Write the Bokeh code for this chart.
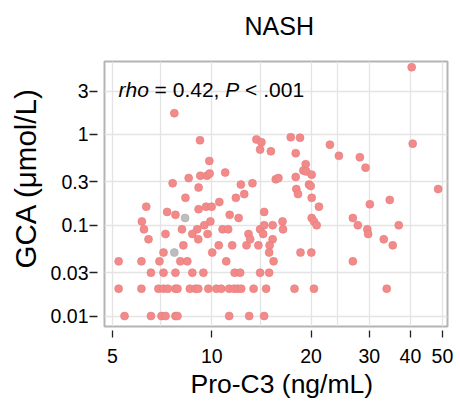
from bokeh.plotting import figure
from bokeh.models import FixedTicker, CustomJSTickFormatter, Label, Range1d, ColumnDataSource, Title
from bokeh.embed import file_html
from bokeh.resources import INLINE

FONT = "Liberation Sans"

# ---- data: Pro-C3 (ng/mL) vs GCA (umol/L), NASH group ----
upper_x = [7.70, 40.35, 9.21, 9.83, 8.51, 9.23, 9.67, 9.85, 7.61, 9.12,
           8.32, 6.33, 7.32, 9.12, 9.61, 9.99, 10.54, 22.80, 17.35, 18.51,
           13.65, 14.14, 14.01, 15.10, 17.96, 10.98, 19.26, 18.94, 19.34, 20.08,
           17.96, 15.63, 15.92, 12.25, 13.28, 19.71, 19.94, 18.04, 18.25, 12.54,
           11.83, 20.08, 14.41, 21.12, 40.63, 24.28, 28.10, 29.24, 48.52, 34.62,
           30.13]
upper_y = [1.71, 5.49, 0.86, 0.51, 0.33, 0.35, 0.35, 0.37, 0.29, 0.26,
           0.20, 0.16, 0.14, 0.15, 0.16, 0.16, 0.18, 0.77, 0.93, 0.92,
           0.88, 0.82, 0.68, 0.65, 0.62, 0.38, 0.47, 0.40, 0.39, 0.36,
           0.34, 0.32, 0.33, 0.28, 0.29, 0.28, 0.27, 0.25, 0.22, 0.22,
           0.20, 0.20, 0.14, 0.16, 0.79, 0.58, 0.56, 0.43, 0.25, 0.19,
           0.17]
mid_x = [7.76, 6.14, 6.23, 6.43, 7.24, 8.12, 9.90, 9.49, 9.03, 8.73,
         9.10, 9.71, 8.20, 7.14, 10.03, 11.33, 12.06, 10.78, 11.21, 10.50,
         11.53, 12.74, 13.84, 12.92, 13.07, 14.01, 14.41, 15.29, 16.38, 16.44,
         14.31, 15.29, 14.97, 14.92, 18.57, 20.03, 20.08, 20.40, 20.79, 26.76,
         27.71, 29.60, 29.77, 36.86, 33.20, 35.35]
mid_y = [0.13, 0.11, 0.09, 0.07, 0.08, 0.09, 0.11, 0.10, 0.09, 0.08,
         0.07, 0.08, 0.06, 0.05, 0.05, 0.13, 0.12, 0.09, 0.09, 0.06,
         0.06, 0.06, 0.06, 0.08, 0.07, 0.09, 0.10, 0.10, 0.11, 0.09,
         0.08, 0.07, 0.06, 0.05, 0.05, 0.05, 0.12, 0.11, 0.10, 0.12,
         0.10, 0.09, 0.08, 0.10, 0.07, 0.06]
row004_x = [5.22, 6.12, 6.94, 8.03, 8.43, 11.06, 15.39, 26.76]
row003_x = [6.54, 7.14, 7.76, 8.73, 9.43, 11.73, 12.19, 14.01, 14.92]
row002_x = [5.22, 6.12, 6.89, 7.14, 7.36, 7.76, 7.87, 8.58, 8.92, 9.10, 9.76,
            10.32, 10.68, 11.29, 11.69, 11.98, 12.28, 13.39, 14.61, 17.81, 20.40, 33.90]
row001_x = [5.44, 6.54, 7.04, 7.24, 7.76, 7.87, 11.29, 12.98, 14.41]

grey_x = [8.30, 7.70]
grey_y = [0.12, 0.05]

x_ticks = [5, 10, 20, 30, 40, 50]
x_grid = [5, 7, 10, 14, 20, 24, 30, 40, 50]
y_ticks = [0.01, 0.03, 0.1, 0.3, 1, 3]

pink_x = upper_x + mid_x + row004_x + row003_x + row002_x + row001_x
pink_y = (upper_y + mid_y + [0.04] * len(row004_x) + [0.03] * len(row003_x)
          + [0.02] * len(row002_x) + [0.01] * len(row001_x))

p = figure(width=460, height=404, x_axis_type="log", y_axis_type="log",
           x_range=Range1d(4.73, 51.8), y_range=Range1d(0.00767, 6.34),
           output_backend="svg", toolbar_location=None,
           min_border_left=103, min_border_right=13, min_border_top=61, min_border_bottom=78,
           background_fill_color="white", border_fill_color="white")
p.title.visible = False

# spacer between frame and the chart title, then the title itself
p.add_layout(Title(text=" ", text_font_size="1px", standoff=19), "above")
p.add_layout(Title(text="NASH", align="left", offset=140, standoff=0,
                   text_font=FONT, text_font_size="25px", text_font_style="normal",
                   text_color="#000000"), "above")

p.outline_line_color = "#b4b4b4"
p.outline_line_width = 2

for ax in (p.xaxis[0], p.yaxis[0]):
    ax.axis_line_color = None
    ax.major_tick_line_color = "#222222"
    ax.major_tick_line_width = 1.3
    ax.minor_tick_line_color = None
    ax.major_label_text_font = FONT
    ax.major_label_text_font_size = "19.5px"
    ax.major_label_text_color = "#000000"
    ax.formatter = CustomJSTickFormatter(code="return String(tick);")

p.xaxis.ticker = FixedTicker(ticks=x_ticks)
p.yaxis.ticker = FixedTicker(ticks=y_ticks)
p.xaxis.major_tick_in = -4
p.xaxis.major_tick_out = 11
p.xaxis.major_label_standoff = 11

p.yaxis.major_tick_in = -7
p.yaxis.major_tick_out = 15
p.yaxis.major_label_standoff = 1

# axis titles as side titles so they can be placed like the original
p.add_layout(Title(text="Pro-C3 (ng/mL)", align="left", offset=86, standoff=6,
                   vertical_align="top", text_font=FONT, text_font_size="26.5px",
                   text_font_style="normal", text_color="#000000"), "below")
p.add_layout(Title(text="GCA (\u03bcmol/L)", align="left", offset=58, standoff=12,
                   text_font=FONT, text_font_size="29.5px", text_font_style="normal",
                   text_color="#000000"), "left")

p.xgrid.ticker = FixedTicker(ticks=x_grid)
p.ygrid.ticker = FixedTicker(ticks=y_ticks)
p.xgrid.grid_line_color = "#e4e4e4"
p.ygrid.grid_line_color = "#e4e4e4"
p.xgrid.grid_line_width = 1.3
p.ygrid.grid_line_width = 1.3

src = ColumnDataSource(dict(x=pink_x, y=pink_y))
p.scatter("x", "y", source=src, size=8, fill_color="#f38a8a", line_color="#e57c7c",
          line_width=0.6, fill_alpha=1.0)
gsrc = ColumnDataSource(dict(x=grey_x, y=grey_y))
p.scatter("x", "y", source=gsrc, size=8, fill_color="#bdbdbd", line_color="#acacac",
          line_width=0.6)

# annotation: rho = 0.42, P < .001 (rho and P italic)
parts = [("rho", "italic", 14.0), ("= 0.42,", "normal", 50.1),
         ("P", "italic", 120.8), ("< .001", "normal", 140.6)]
for txt, style, xo in parts:
    p.add_layout(Label(x=xo, y=236.7, x_units="screen", y_units="screen", text=txt,
                       text_font=FONT, text_font_style=style, text_font_size="21px",
                       text_color="#000000", text_baseline="alphabetic"))

open("out.html", "w").write(file_html(p, INLINE))
